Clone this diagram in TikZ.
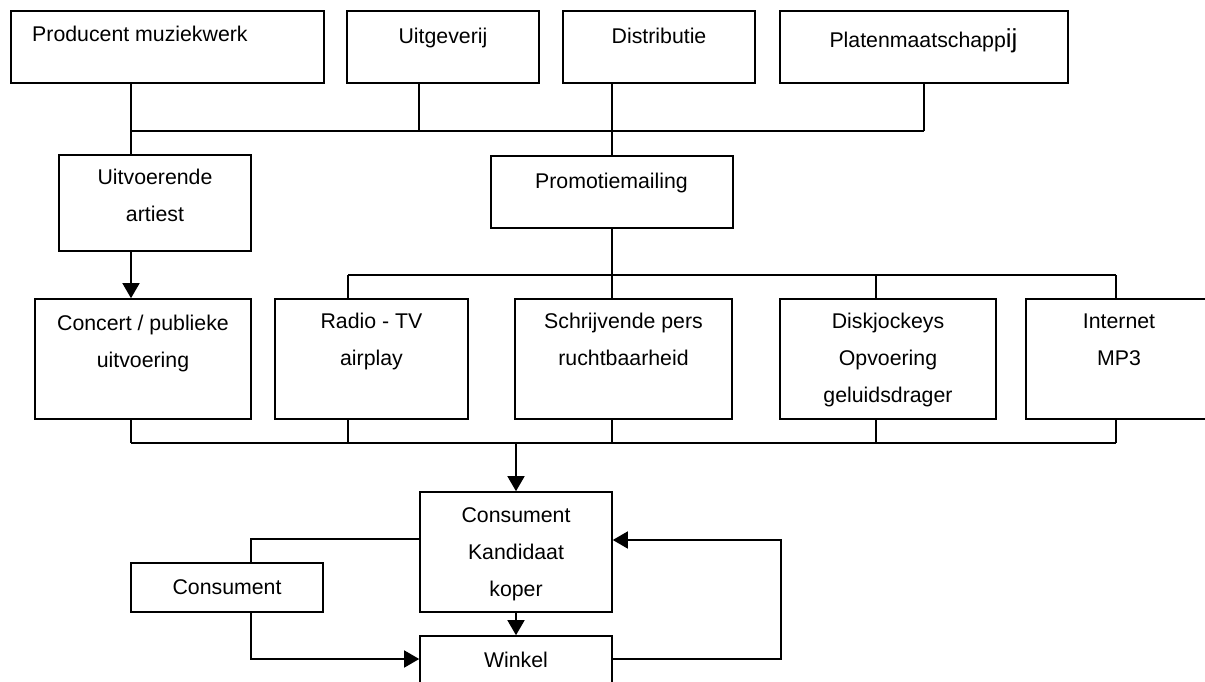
\documentclass[tikz,border=0pt]{standalone}
\usepackage{fontspec}
\setmainfont{Liberation Sans}
\usetikzlibrary{arrows.meta,calc}
\begin{document}
\begin{tikzpicture}[x=1pt,y=-1pt,
  box/.style={draw,line width=1.6pt,rectangle,inner sep=0pt},
  lbl/.style={inner sep=0pt,align=center,font=\fontsize{21.3}{37}\selectfont},
  conn/.style={line width=1.5pt},
  arr/.style={conn,-{Triangle[width=17pt,length=15pt]}}]
\clip (0,0) rectangle (1205,682);
\fill[white] (0,0) rectangle (1205,682);
% boxes
\node[box,minimum width=313pt,minimum height=72pt] (prod) at (167.5,47) {};
\node[box,minimum width=192pt,minimum height=72pt] (uitg) at (443,47) {};
\node[box,minimum width=192pt,minimum height=72pt] (dist) at (659,47) {};
\node[box,minimum width=288pt,minimum height=72pt] (plat) at (924,47) {};
\node[box,minimum width=192pt,minimum height=96pt] (ua) at (155,203) {};
\node[box,minimum width=242pt,minimum height=72pt] (promo) at (612,192) {};
\node[box,minimum width=216pt,minimum height=120pt] (conc) at (143,359) {};
\node[box,minimum width=193pt,minimum height=120pt] (radio) at (371.5,359) {};
\node[box,minimum width=217pt,minimum height=120pt] (schr) at (623.5,359) {};
\node[box,minimum width=216pt,minimum height=120pt] (disk) at (888,359) {};
\node[box,minimum width=186pt,minimum height=120pt] (inet) at (1119,359) {};
\node[box,minimum width=192pt,minimum height=120pt] (ck) at (516,552) {};
\node[box,minimum width=192pt,minimum height=49pt] (cons) at (227,587.5) {};
\node[box,minimum width=192pt,minimum height=74pt] (wink) at (516,673) {};
% labels
\node[lbl,anchor=base west] (tprod) at (32,42) {Producent muziekwerk};
\node[lbl,anchor=base] (tuitg) at (443,44) {Uitgeverij};
\node[lbl,anchor=base] (tdist) at (659,44) {Distributie};
\node[lbl,anchor=base] (tplat) at (923.5,48) {Platenmaatschapp{\fontsize{26}{37}\selectfont ij}};
\node[lbl,anchor=north] (tua) at ([yshift=-15pt]ua.north) {Uitvoerende\\artiest};
\node[lbl,anchor=base] (tpromo) at (611.5,188) {Promotiemailing};
\node[lbl,anchor=north] (tconc) at ([yshift=-17pt]conc.north) {Concert / publieke\\uitvoering};
\node[lbl,anchor=north] (tradio) at ([yshift=-15pt]radio.north) {Radio - TV\\airplay};
\node[lbl,anchor=north] (tschr) at ([yshift=-15pt]schr.north) {Schrijvende pers\\ruchtbaarheid};
\node[lbl,anchor=north] (tdisk) at ([yshift=-15pt]disk.north) {Diskjockeys\\Opvoering\\geluidsdrager};
\node[lbl,anchor=north] (tinet) at ([yshift=-15pt]inet.north) {Internet\\MP3};
\node[lbl,anchor=north] (tck) at ([yshift=-16pt]ck.north) {Consument\\Kandidaat\\koper};
\node[lbl,anchor=base] (tcons) at (227,594) {Consument};
\node[lbl,anchor=base] (twink) at (516,667) {Winkel};
% helper coordinates
\coordinate (xa) at (131,0);
\coordinate (xu) at (419,0);
\coordinate (xr) at (348,0);
\coordinate (xd) at (876,0);
\coordinate (xi) at (1116,0);
\coordinate (xc) at (251,0);
\coordinate (xf) at (781,0);
\coordinate (tb) at (0,131);
\coordinate (mb) at (0,275);
\coordinate (bb) at (0,443);
\coordinate (yk) at (0,539);
\coordinate (yw) at (0,659);
\coordinate (yk2) at (0,540);
% top bus
\draw[conn] (prod.south -| xa) -- (ua.north -| xa);
\draw[conn] (xa |- tb) -- (plat.south |- tb);
\draw[conn] (uitg.south -| xu) -- (xu |- tb);
\draw[conn] (plat.south) -- (plat.south |- tb);
\draw[conn] (dist.south -| promo.north) -- (promo.north);
% middle
\draw[arr] (ua.south -| xa) -- (conc.north -| xa);
\draw[conn] (promo.south) -- (schr.north -| promo.south);
\draw[conn] (xr |- mb) -- (xi |- mb);
\draw[conn] (xr |- mb) -- (radio.north -| xr);
\draw[conn] (xd |- mb) -- (disk.north -| xd);
\draw[conn] (xi |- mb) -- (inet.north -| xi);
% bottom bus
\draw[conn] (xa |- bb) -- (xi |- bb);
\draw[conn] (conc.south -| xa) -- (xa |- bb);
\draw[conn] (radio.south -| xr) -- (xr |- bb);
\draw[conn] (schr.south -| promo.south) -- (promo.south |- bb);
\draw[conn] (disk.south -| xd) -- (xd |- bb);
\draw[conn] (inet.south -| xi) -- (xi |- bb);
\draw[arr] (ck.north |- bb) -- (ck.north);
\draw[arr] (ck.south) -- (wink.north);
% consumer loop
\draw[conn] (ck.west |- yk) -- (xc |- yk) -- (cons.north -| xc);
\draw[arr] (cons.south -| xc) -- (xc |- yw) -- (wink.west |- yw);
\draw[arr] (wink.east |- yw) -- (xf |- yw) -- (xf |- yk2) -- (ck.east |- yk2);
\end{tikzpicture}
\end{document}
